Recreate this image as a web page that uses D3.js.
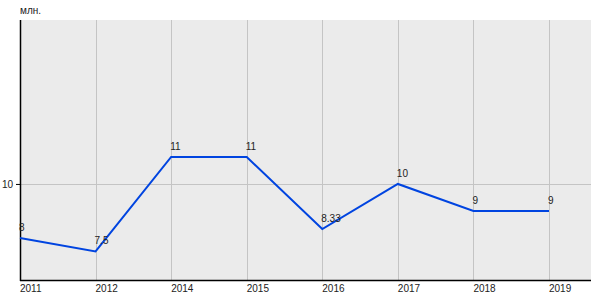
<!DOCTYPE html>
<html>
<head>
<meta charset="utf-8">
<script src="https://cdn.jsdelivr.net/npm/d3@7/dist/d3.min.js"></script>
<style>
body { margin: 0; background: #fff; }
text { font-family: "Liberation Sans", Arial, sans-serif; }
</style>
</head>
<body>
<div id="chart"></div>
<script>
const years = ['2011', '2012', '2014', '2015', '2016', '2017', '2018', '2019']
const values = [8, 7.5, 11, 11, 8.33, 10, 9, 9]
const valueLabels = ['8', '7.5', '11', '11', '8.33', '10', '9', '9']
const yTicks = [10]

var chart_width  = 600;
var chart_height = 300;
var plot_left = 20, plot_right = 591, plot_top = 20, plot_bottom = 280;

var svg = d3.select('#chart')
    .append('svg')
    .attr('width', chart_width)
    .attr('height', chart_height);

// step of one category is ~75.5px, the plot runs a bit past the last year
const x_scale = d3.scaleLinear()
    .domain([0, years.length - 1])
    .range([plot_left, 549]);

const y_scale = d3.scaleLinear()
    .domain([6.444, 16.07])
    .range([plot_bottom, plot_top]);

// plot background
svg.append('rect')
    .attr('x', plot_left).attr('y', plot_top)
    .attr('width', plot_right - plot_left).attr('height', plot_bottom - plot_top)
    .attr('fill', '#ebebeb');

// vertical grid
svg.selectAll('.vgrid')
    .data(years)
    .enter()
    .append('line')
    .attr('class', 'vgrid')
    .attr('x1', (d, i) => Math.round(x_scale(i)) + 0.5)
    .attr('x2', (d, i) => Math.round(x_scale(i)) + 0.5)
    .attr('y1', plot_top)
    .attr('y2', plot_bottom)
    .attr('stroke', '#c4c4c4')
    .attr('stroke-width', 1);

// horizontal grid
svg.selectAll('.hgrid')
    .data(yTicks)
    .enter()
    .append('line')
    .attr('class', 'hgrid')
    .attr('x1', plot_left)
    .attr('x2', plot_right)
    .attr('y1', d => Math.round(y_scale(d)) + 0.5)
    .attr('y2', d => Math.round(y_scale(d)) + 0.5)
    .attr('stroke', '#c4c4c4');

// y axis
const yAxis = d3.axisLeft(y_scale)
    .tickValues(yTicks)
    .tickSize(4)
    .tickPadding(3);
const gy = svg.append('g')
    .attr('transform', `translate(${plot_left},0)`)
    .call(yAxis);
gy.select('.domain').remove();
gy.selectAll('text').attr('font-size', 10).attr('fill', '#222')
    .attr('font-family', '"Liberation Sans", Arial, sans-serif');
gy.selectAll('line').attr('stroke', '#000');

// axis lines
svg.append('line')
    .attr('x1', plot_left + 0.5).attr('x2', plot_left + 0.5)
    .attr('y1', plot_top).attr('y2', plot_bottom + 1)
    .attr('stroke', '#000').attr('stroke-width', 1.5);
svg.append('line')
    .attr('x1', plot_left).attr('x2', plot_right)
    .attr('y1', plot_bottom + 0.5).attr('y2', plot_bottom + 0.5)
    .attr('stroke', '#000').attr('stroke-width', 1.5);

// unit label
svg.append('text')
    .text('млн.')
    .attr('x', plot_left)
    .attr('y', 14)
    .attr('font-size', 10)
    .attr('fill', '#222');

// x labels
svg.selectAll('.xlab')
    .data(years)
    .enter()
    .append('text')
    .attr('class', 'xlab')
    .text(d => d)
    .attr('x', (d, i) => x_scale(i))
    .attr('y', 292)
    .attr('font-size', 10)
    .attr('fill', '#222');

// line
const line = d3.line()
    .x((d, i) => x_scale(i))
    .y(d => y_scale(d));

svg.append('path')
    .datum(values)
    .attr('d', line)
    .attr('fill', 'none')
    .attr('stroke', '#0044e0')
    .attr('stroke-width', 2);

// value labels
svg.selectAll('.vlab')
    .data(values)
    .enter()
    .append('text')
    .attr('class', 'vlab')
    .text((d, i) => valueLabels[i])
    .attr('x', (d, i) => x_scale(i) - 1)
    .attr('y', d => y_scale(d) - 7)
    .attr('font-size', 10)
    .attr('fill', '#222');
</script>
</body>
</html>
